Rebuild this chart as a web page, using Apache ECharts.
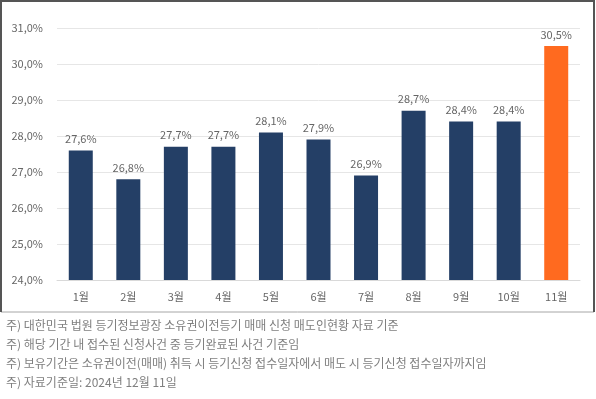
<!DOCTYPE html>
<html>
<head>
<meta charset="utf-8">
<script src="https://cdn.jsdelivr.net/npm/echarts@6/dist/echarts.min.js"></script>
<style>
  html, body { margin: 0; padding: 0; background: #fff; }
  #chart { width: 596px; height: 399px; }
</style>
</head>
<body>
<div id="chart"></div>
<script>
document.addEventListener("DOMContentLoaded", function() {

    const months = ['1월', '2월', '3월', '4월', '5월', '6월', '7월', '8월', '9월', '10월', '11월'];
    const shares = [27.6, 26.8, 27.7, 27.7, 28.1, 27.9, 26.9, 28.7, 28.4, 28.4, 30.5];
    const notes = [
        '주) 대한민국 법원 등기정보광장 소유권이전등기 매매 신청 매도인현황 자료 기준',
        '주) 해당 기간 내 접수된 신청사건 중 등기완료된 사건 기준임',
        '주) 보유기간은 소유권이전(매매) 취득 시 등기신청 접수일자에서 매도 시 등기신청 접수일자까지임',
        '주) 자료기준일: 2024년 12월 11일'
    ];

    const font = '"Noto Sans CJK KR", "Noto Sans", sans-serif';
    const pct = (v) => v.toFixed(1).replace('.', ',') + '%';

    const chart = echarts.init(document.getElementById('chart'));

    chart.setOption({
        animation: false,
        grid: {left: 57, right: 16, top: 28, bottom: 119},
        xAxis: {
            type: 'category',
            data: months,
            axisLine: {lineStyle: {color: '#d9d9d9'}},
            axisTick: {show: false},
            axisLabel: {color: '#666', fontSize: 11, fontFamily: font, margin: 11}
        },
        yAxis: {
            type: 'value',
            min: 24,
            max: 31,
            interval: 1,
            axisLine: {show: false},
            axisTick: {show: false},
            splitLine: {lineStyle: {color: '#e6e6e6'}},
            axisLabel: {
                color: '#666', fontSize: 11, fontFamily: font, margin: 14,
                formatter: (v) => pct(v)
            }
        },
        series: [{
            type: 'bar',
            barWidth: 24,
            data: shares.map((v, i) => ({
                value: v,
                itemStyle: {color: i === shares.length - 1 ? '#ff6a1f' : '#243f66'}
            })),
            label: {
                show: true,
                position: 'top',
                distance: 6,
                color: '#666',
                fontSize: 11,
                fontFamily: font,
                formatter: (p) => pct(p.value)
            }
        }],
        graphic: [
            {
                type: 'rect',
                shape: {x: 1, y: 1, width: 593, height: 311},
                style: {fill: 'none', stroke: '#a6a6a6', lineWidth: 1},
                silent: true
            },
            {
                type: 'polyline',
                shape: {points: [[1, 312], [1, 1], [594, 1], [594, 312]]},
                style: {fill: 'none', stroke: '#555', lineWidth: 2},
                silent: true
            }
        ].concat(notes.map((t, i) => ({
            type: 'text',
            left: 6,
            top: 319 + i * 19,
            style: {text: t, fill: '#7f7f7f', fontSize: 12, fontFamily: font}
        })))
    });

});
</script>
</body>
</html>
